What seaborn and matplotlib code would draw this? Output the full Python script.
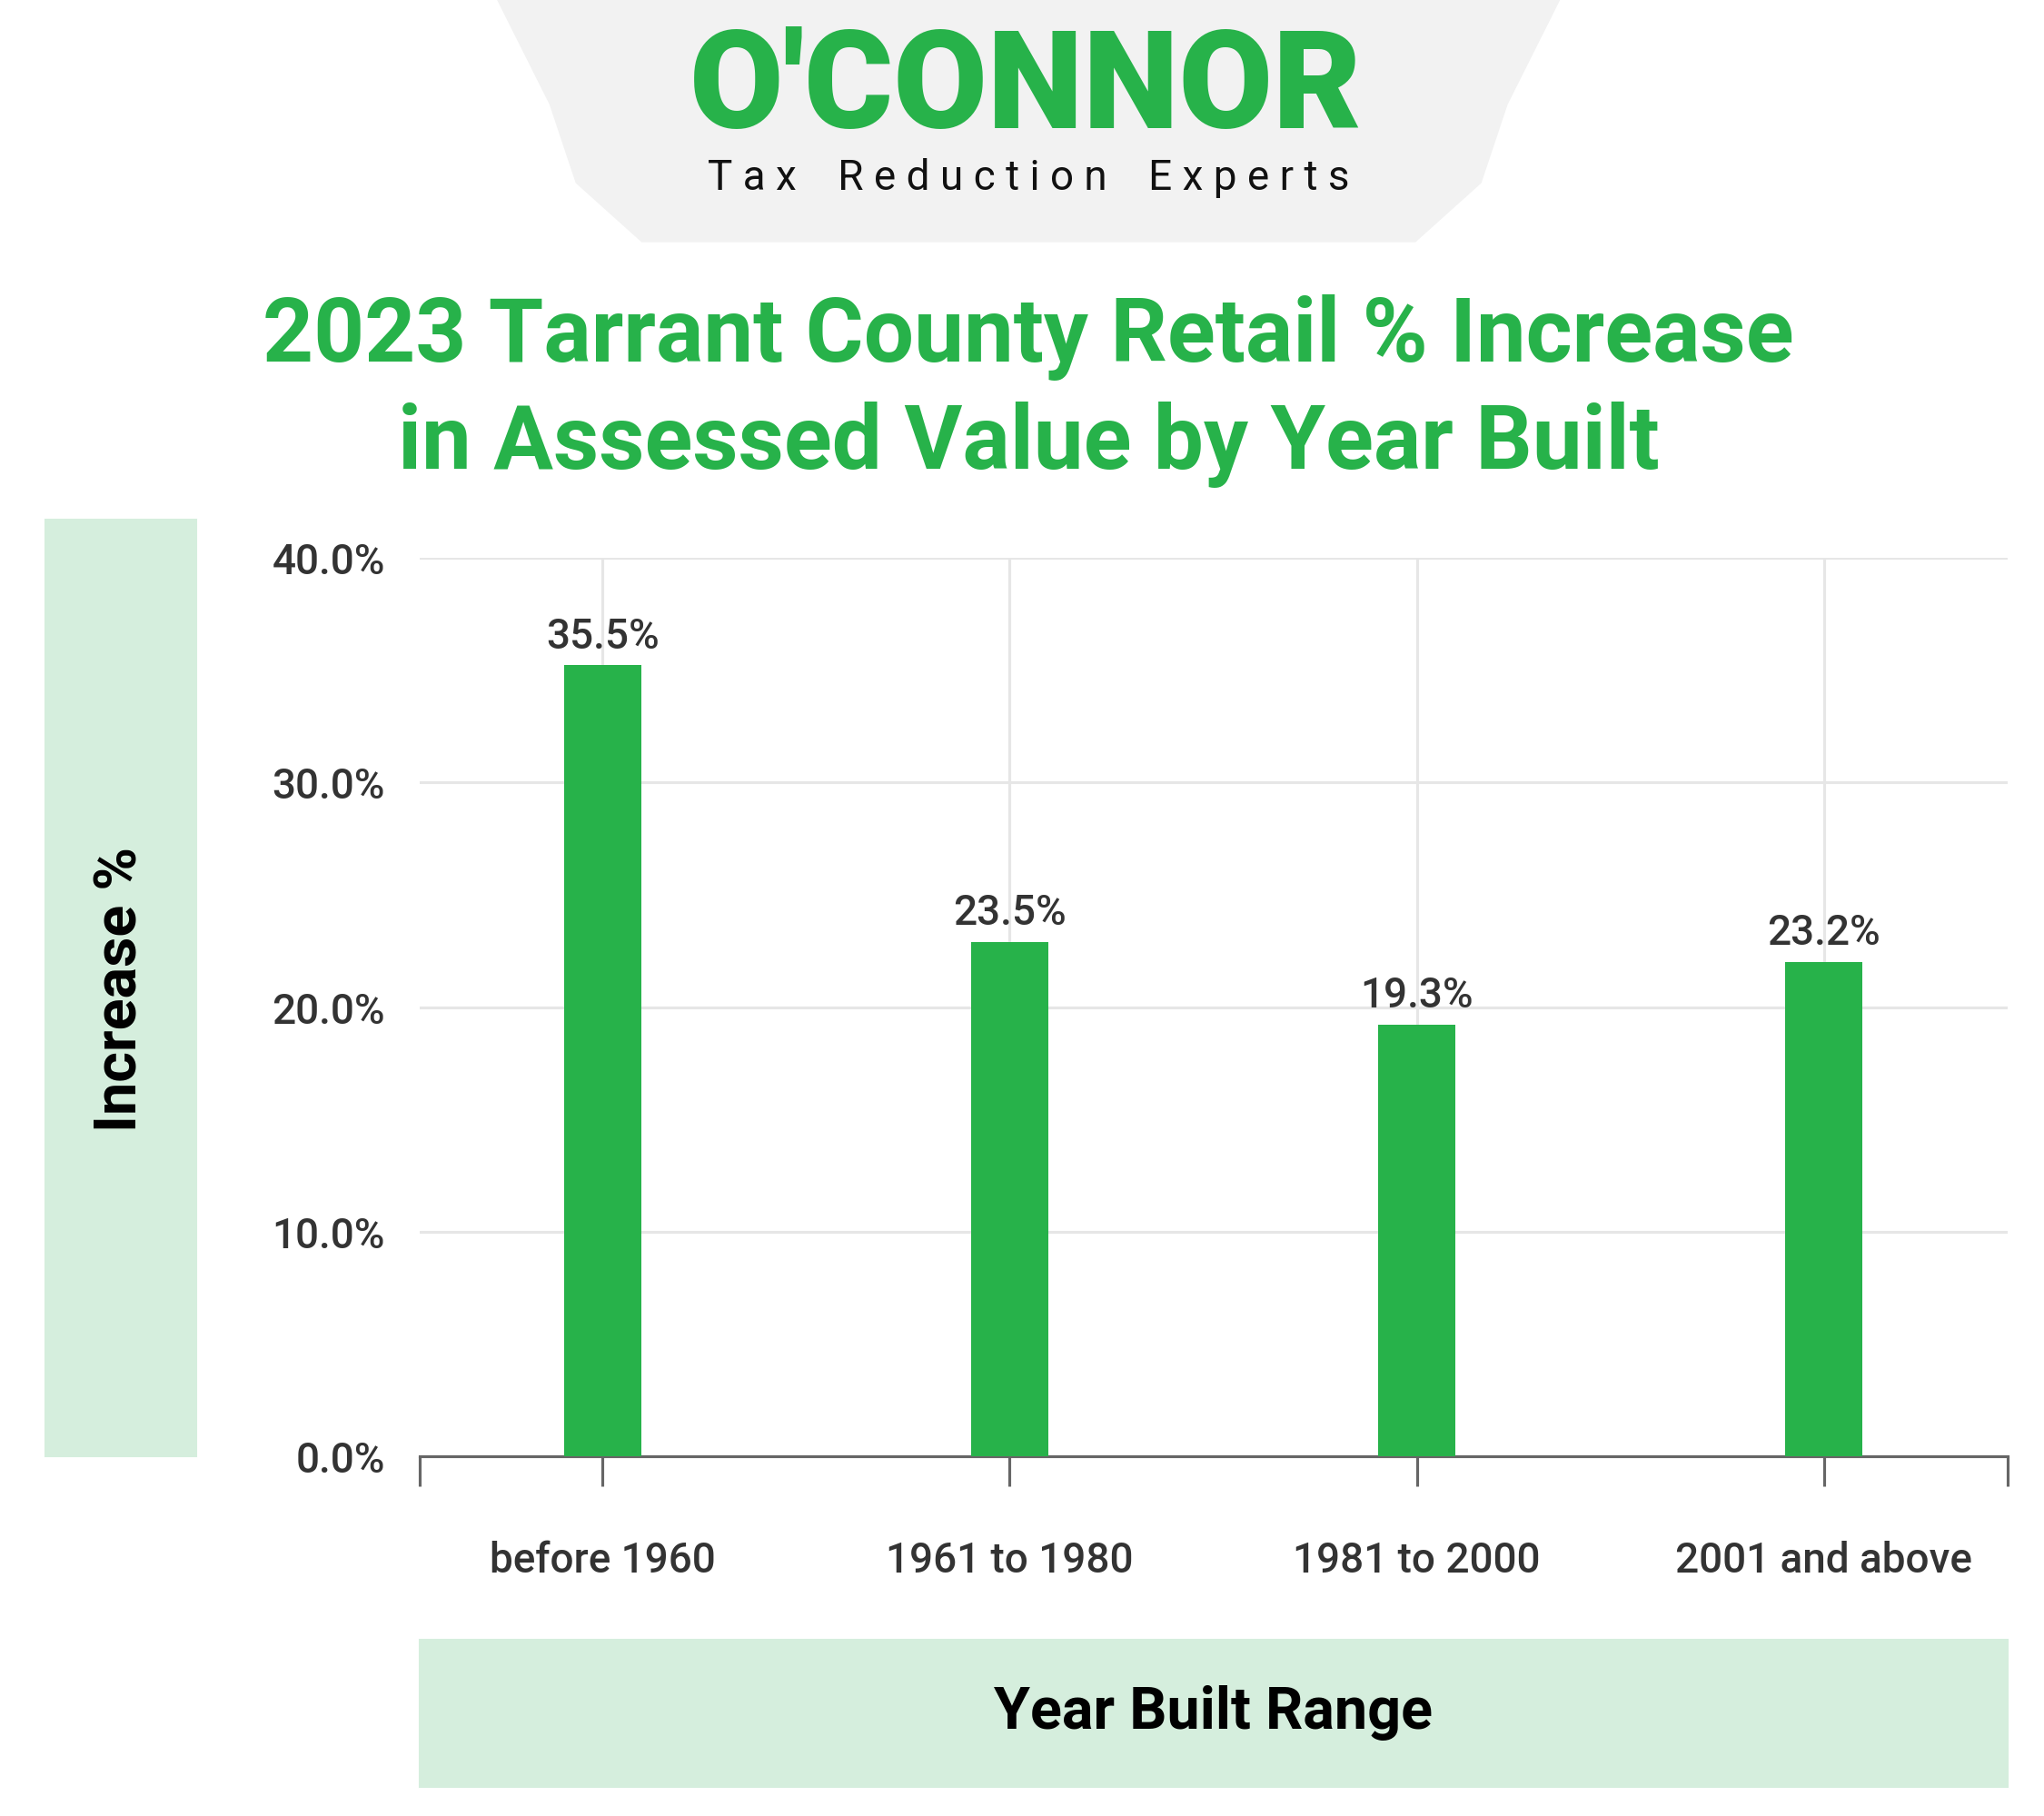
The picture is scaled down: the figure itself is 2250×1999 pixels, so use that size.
import matplotlib

matplotlib.use("Agg")
import matplotlib.pyplot as plt
import pandas as pd
import seaborn as sns
from matplotlib.patches import Rectangle, Polygon

GREEN = "#27b24a"
LIGHT = "#d5eedd"

categories = ["before 1960", "1961 to 1980", "1981 to 2000", "2001 and above"]
bar_values = [35.2, 22.9, 19.2, 22.0]
bar_labels = ["35.5%", "23.5%", "19.3%", "23.2%"]
y_ticks = [0, 10, 20, 30, 40]

sns.set_style("white")
plt.rcParams["font.family"] = "Roboto"

W, H = 1560, 1390
fig = plt.figure(figsize=(15, 13.33), dpi=150)


def fx(x):
    return x / W


def fy(y):
    return 1 - y / H


# logo backdrop
logo = Polygon(
    [(fx(380), fy(0)), (fx(1190), fy(0)), (fx(1150), fy(80)), (fx(1130), fy(140)),
     (fx(1080), fy(185)), (fx(490), fy(185)), (fx(440), fy(140)), (fx(420), fy(80))],
    closed=True, transform=fig.transFigure, color="#f2f2f2", zorder=0)
fig.patches.append(logo)
fig.text(fx(783), fy(70), "O'CONNOR", color=GREEN, fontsize=72, fontweight="black",
         ha="center", va="center")
fig.text(fx(785), fy(136), " ".join("Tax Reduction Experts").replace("   ", "    "),
         color="#111111", fontsize=22, ha="center", va="center")

fig.text(fx(785), fy(258), "2023 Tarrant County Retail % Increase", color=GREEN,
         fontsize=47, fontweight="bold", ha="center", va="center")
fig.text(fx(785), fy(340), "in Assessed Value by Year Built", color=GREEN,
         fontsize=47, fontweight="bold", ha="center", va="center")

# label boxes
fig.patches.append(Rectangle((fx(35), fy(1115)), fx(115), (1115 - 398) / H,
                             transform=fig.transFigure, color=LIGHT, zorder=0))
fig.patches.append(Rectangle((fx(320), fy(1368)), fx(1212), (1368 - 1255) / H,
                             transform=fig.transFigure, color=LIGHT, zorder=0))
fig.text(fx(92), fy(757), "Increase %", rotation=90, fontsize=31, fontweight="bold",
         ha="center", va="center", color="black")
fig.text(fx(926), fy(1311), "Year Built Range", fontsize=31, fontweight="bold",
         ha="center", va="center", color="black")

ax = fig.add_axes([fx(320), fy(1115), fx(1212), (1115 - 427) / H])
df = pd.DataFrame({"cat": categories, "val": bar_values})
sns.barplot(data=df, x="cat", y="val", color=GREEN, width=0.19, saturation=1, ax=ax, zorder=3)
for p in ax.patches:
    p.set_edgecolor("none")
for i, lab in enumerate(bar_labels):
    ax.annotate(lab, (i, bar_values[i]), xytext=(0, 5), textcoords="offset points",
                ha="center", va="bottom", fontsize=22, fontweight="medium", color="#333333")

ax.set_xlim(-0.45, 3.45)
ax.set_ylim(0, 40)
ax.set_yticks(y_ticks)
ax.set_yticklabels([f"{v:.1f}%" for v in y_ticks], fontsize=22, fontweight="medium",
                   color="#333333")
ax.set_xticks(range(len(categories)))
ax.set_xticklabels(categories, fontsize=22, fontweight="medium", color="#333333")
ax.set_xticks([-0.45, 3.45], minor=True)
ax.tick_params(axis="x", which="both", bottom=True, length=16, width=1.5,
               color="#666666", pad=28)
ax.tick_params(axis="y", length=0, pad=18)
ax.grid(True, color="#e6e6e6", linewidth=1.5, zorder=0)
ax.set_axisbelow(True)
for s in ["top", "right", "left"]:
    ax.spines[s].set_visible(False)
ax.spines["bottom"].set_color("#666666")
ax.spines["bottom"].set_linewidth(1.5)
ax.set_xlabel("")
ax.set_ylabel("")

fig.savefig("out.png", dpi=150, facecolor="white")
